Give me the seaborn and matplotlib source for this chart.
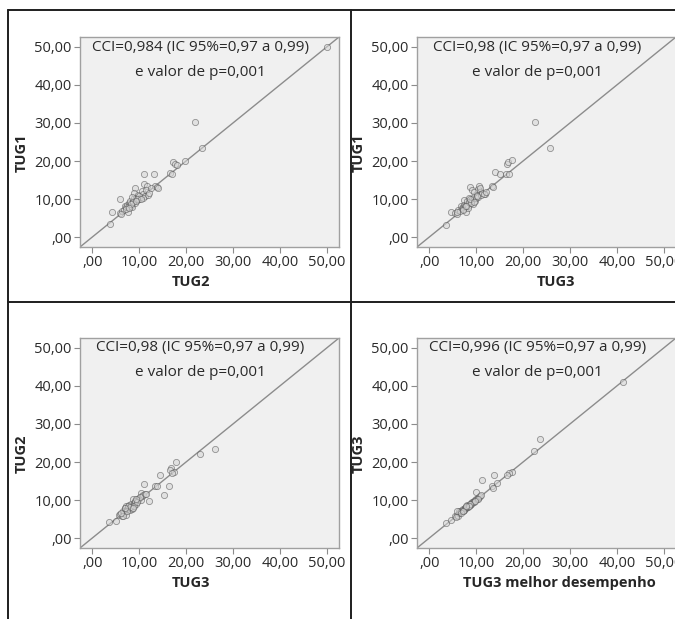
import matplotlib
matplotlib.use("Agg")
import matplotlib.pyplot as plt
from matplotlib.lines import Line2D
from matplotlib.ticker import FuncFormatter, FixedLocator
import pandas as pd
import seaborn as sns

# TUG1 x TUG2
tug2_a = [50.0, 21.9, 23.4, 19.8, 17.3, 17.6, 18.1, 16.6, 17.0, 13.1,
          11.0, 13.4, 13.9, 14.1, 11.0, 11.6, 9.1, 6.0, 4.3, 3.7,
          6.0, 6.4, 6.8, 7.0, 7.3, 7.5, 7.6, 7.8, 8.0, 8.1,
          8.3, 8.5, 8.7, 8.9, 9.0, 9.2, 9.4, 9.6, 9.8, 10.0,
          10.3, 10.6, 10.9, 11.2, 11.5, 11.8, 12.0, 8.4, 7.7, 9.9,
          10.8, 7.2, 8.8, 9.5, 6.2, 8.2, 7.9, 12.5, 10.5, 9.3]
tug1_a = [50.0, 30.3, 23.4, 20.0, 19.8, 19.3, 19.0, 16.8, 16.5, 16.5,
          16.5, 13.4, 13.2, 13.0, 13.9, 13.4, 13.0, 10.0, 6.6, 3.4,
          6.3, 6.9, 7.1, 8.2, 7.8, 8.4, 6.5, 9.0, 8.6, 9.6,
          8.2, 7.9, 9.4, 10.2, 11.5, 8.9, 10.4, 9.7, 11.2, 10.1,
          10.6, 12.0, 11.3, 10.8, 12.3, 11.0, 11.6, 10.5, 8.0, 10.9,
          10.4, 7.4, 9.2, 10.0, 6.0, 8.8, 7.6, 12.8, 9.9, 9.5]

# TUG1 x TUG3
tug3_b = [22.6, 25.8, 16.6, 16.9, 17.6, 14.1, 15.0, 16.3, 17.1, 13.4,
          13.6, 10.9, 11.8, 10.5, 8.6, 9.1, 9.5, 4.6, 3.5, 5.5,
          5.9, 6.2, 6.5, 6.8, 7.0, 7.2, 7.4, 7.5, 7.7, 7.8,
          8.0, 8.1, 8.3, 8.5, 8.7, 8.9, 9.1, 9.3, 9.5, 9.7,
          9.9, 10.1, 10.4, 10.7, 11.0, 11.3, 11.6, 12.1, 7.3, 8.2,
          7.6, 8.4, 9.0, 10.2, 6.0, 7.1, 8.8, 10.8, 7.9, 9.6]
tug1_b = [30.3, 23.5, 19.2, 19.8, 20.2, 17.0, 16.7, 16.7, 16.5, 13.4,
          13.2, 12.1, 11.4, 12.7, 13.2, 12.5, 11.9, 6.5, 3.3, 6.3,
          6.0, 7.0, 6.8, 8.2, 7.6, 8.0, 9.8, 8.4, 7.8, 6.5,
          8.8, 9.6, 8.2, 10.4, 9.0, 9.4, 10.0, 8.7, 10.6, 9.6,
          10.2, 11.0, 10.5, 13.5, 11.2, 11.7, 11.4, 11.9, 7.5, 7.7,
          8.1, 9.1, 8.9, 10.8, 6.6, 7.2, 10.0, 13.0, 8.3, 9.3]

# TUG2 x TUG3
tug3_c = [26.2, 22.9, 17.9, 16.9, 16.6, 17.4, 17.0, 16.3, 14.5, 13.4,
          13.8, 15.2, 12.1, 11.1, 10.5, 3.5, 5.0, 5.8, 6.0, 6.3,
          6.6, 6.8, 7.0, 7.2, 7.3, 7.5, 7.6, 7.8, 7.9, 8.0,
          8.2, 8.3, 8.5, 8.7, 8.8, 9.0, 9.2, 9.4, 9.6, 9.8,
          10.0, 10.3, 10.6, 10.9, 11.2, 11.5, 7.1, 8.4, 9.1, 6.5,
          7.7, 8.1, 8.9, 9.5, 10.1, 7.4, 8.6, 6.2, 9.3, 7.0]
tug2_c = [23.5, 22.1, 19.9, 18.5, 17.8, 17.4, 17.1, 13.8, 16.6, 13.8,
          13.8, 11.2, 9.8, 14.2, 11.9, 4.2, 4.4, 6.1, 6.3, 5.9,
          7.0, 6.6, 7.8, 7.3, 8.4, 7.6, 8.1, 7.9, 8.6, 7.4,
          8.3, 9.0, 8.0, 8.8, 10.4, 9.2, 9.6, 9.0, 10.2, 9.9,
          10.5, 10.1, 11.0, 11.4, 11.7, 11.5, 6.2, 7.7, 9.8, 5.8,
          8.5, 8.2, 8.5, 9.4, 10.8, 7.0, 7.9, 6.5, 10.3, 8.0]

# TUG3 x TUG3 melhor desempenho
melhor_d = [41.4, 23.7, 22.4, 17.7, 17.0, 16.6, 13.8, 11.3, 10.0, 13.4,
            14.5, 13.6, 3.5, 4.6, 5.6, 5.9, 6.1, 6.3, 6.4, 6.6,
            6.8, 7.0, 7.1, 7.3, 7.4, 7.6, 7.7, 7.9, 8.0, 8.1,
            8.3, 8.4, 8.6, 8.7, 8.9, 9.1, 9.2, 9.4, 9.6, 9.8,
            10.0, 10.2, 10.4, 10.6, 10.9, 11.1, 6.0, 7.5, 8.2, 9.0,
            9.5, 7.8, 6.7, 8.8, 10.3, 7.2, 8.5, 9.7, 5.8, 7.9]
tug3_d = [41.1, 26.1, 22.8, 17.4, 17.0, 16.7, 16.5, 15.2, 12.1, 13.6,
          14.5, 13.3, 4.0, 4.8, 5.7, 6.2, 5.9, 6.6, 7.2, 6.8,
          7.0, 7.4, 7.2, 7.6, 7.5, 7.8, 8.0, 7.9, 8.3, 8.6,
          8.4, 8.6, 8.8, 8.7, 9.1, 9.2, 9.4, 9.5, 9.8, 9.9,
          10.2, 10.3, 10.6, 10.7, 11.0, 11.2, 7.1, 7.3, 8.1, 8.9,
          9.6, 8.2, 6.5, 9.0, 10.4, 7.1, 8.4, 9.7, 5.6, 8.4]

ticks = [0, 10, 20, 30, 40, 50]

panels = [
    dict(x=tug2_a, y=tug1_a, xlabel="TUG2", ylabel="TUG1",
         txt="CCI=0,984 (IC 95%=0,97 a 0,99)", pos=(80, 37), xlab_c=191),
    dict(x=tug3_b, y=tug1_b, xlabel="TUG3", ylabel="TUG1",
         txt="CCI=0,98 (IC 95%=0,97 a 0,99)", pos=(417, 37), xlab_c=556),
    dict(x=tug3_c, y=tug2_c, xlabel="TUG3", ylabel="TUG2",
         txt="CCI=0,98 (IC 95%=0,97 a 0,99)", pos=(80, 338), xlab_c=191),
    dict(x=melhor_d, y=tug3_d, xlabel="TUG3 melhor desempenho", ylabel="TUG3",
         txt="CCI=0,996 (IC 95%=0,97 a 0,99)", pos=(417, 338), xlab_c=559),
]

W, H = 675, 619
AW, AH = 259, 210
LIM = (-2.6, 52.6)

sns.set_style("white")
plt.rcParams['font.family'] = ['Open Sans', 'DejaVu Sans']
plt.rcParams['text.color'] = '#2a2a2a'

fig = plt.figure(figsize=(W / 100, H / 100), dpi=100)


def fmt(v, _):
    s = f"{v:.2f}".replace('.', ',')
    return s[1:] if s.startswith('0') else s


for p in panels:
    left, top = p['pos']
    ax = fig.add_axes([left / W, 1 - (top + AH) / H, AW / W, AH / H])
    ax.set_facecolor('#f0f0f0')
    df = pd.DataFrame({'x': p['x'], 'y': p['y']})
    ax.axline((0, 0), slope=1, color='#8c8c8c', lw=1.0, zorder=2)
    sns.scatterplot(data=df, x='x', y='y', ax=ax, s=20, color='#d6d6d6',
                    edgecolor='#4a4a4a', linewidth=0.6, alpha=0.55, zorder=3)
    ax.set_xlim(LIM)
    ax.set_ylim(LIM)
    ax.xaxis.set_major_locator(FixedLocator(ticks))
    ax.yaxis.set_major_locator(FixedLocator(ticks))
    ax.xaxis.set_major_formatter(FuncFormatter(fmt))
    ax.yaxis.set_major_formatter(FuncFormatter(fmt))
    ax.tick_params(axis='both', direction='out', length=4, width=0.8,
                   color='#8c8c8c', labelsize=10.5, labelcolor='#2a2a2a', pad=2)
    ax.tick_params(left=True, bottom=True)
    for sp in ax.spines.values():
        sp.set_color('#a0a0a0')
        sp.set_linewidth(1.0)
    ax.set_xlabel(p['xlabel'], fontsize=10.5, fontweight='bold')
    ax.set_ylabel(p['ylabel'], fontsize=10.5, fontweight='bold')
    ax.xaxis.set_label_coords((p['xlab_c'] - left) / AW, -(282 - 37 - AH) / AH)
    ax.yaxis.set_label_coords(-58 / AW, 0.45)
    ax.xaxis.label.set_va('center')
    ax.yaxis.label.set_va('center')
    ax.text(0.465, 1 - 10 / AH, p['txt'], transform=ax.transAxes,
            ha='center', va='center', fontsize=11, color='#2a2a2a')
    ax.text(0.465, 1 - 35 / AH, "e valor de p=0,001", transform=ax.transAxes,
            ha='center', va='center', fontsize=11, color='#2a2a2a')

# table frame around the panels
frame = dict(color='#1e1e1e', lw=1.4, transform=fig.transFigure)
fig.add_artist(Line2D([8 / W, 1], [1 - 10 / H, 1 - 10 / H], **frame))
fig.add_artist(Line2D([8 / W, 8 / W], [1 - 10 / H, 0], **frame))
fig.add_artist(Line2D([351 / W, 351 / W], [1 - 10 / H, 0], **frame))
fig.add_artist(Line2D([8 / W, 1], [1 - 302 / H, 1 - 302 / H], **frame))

fig.savefig("out.png", dpi=100)
